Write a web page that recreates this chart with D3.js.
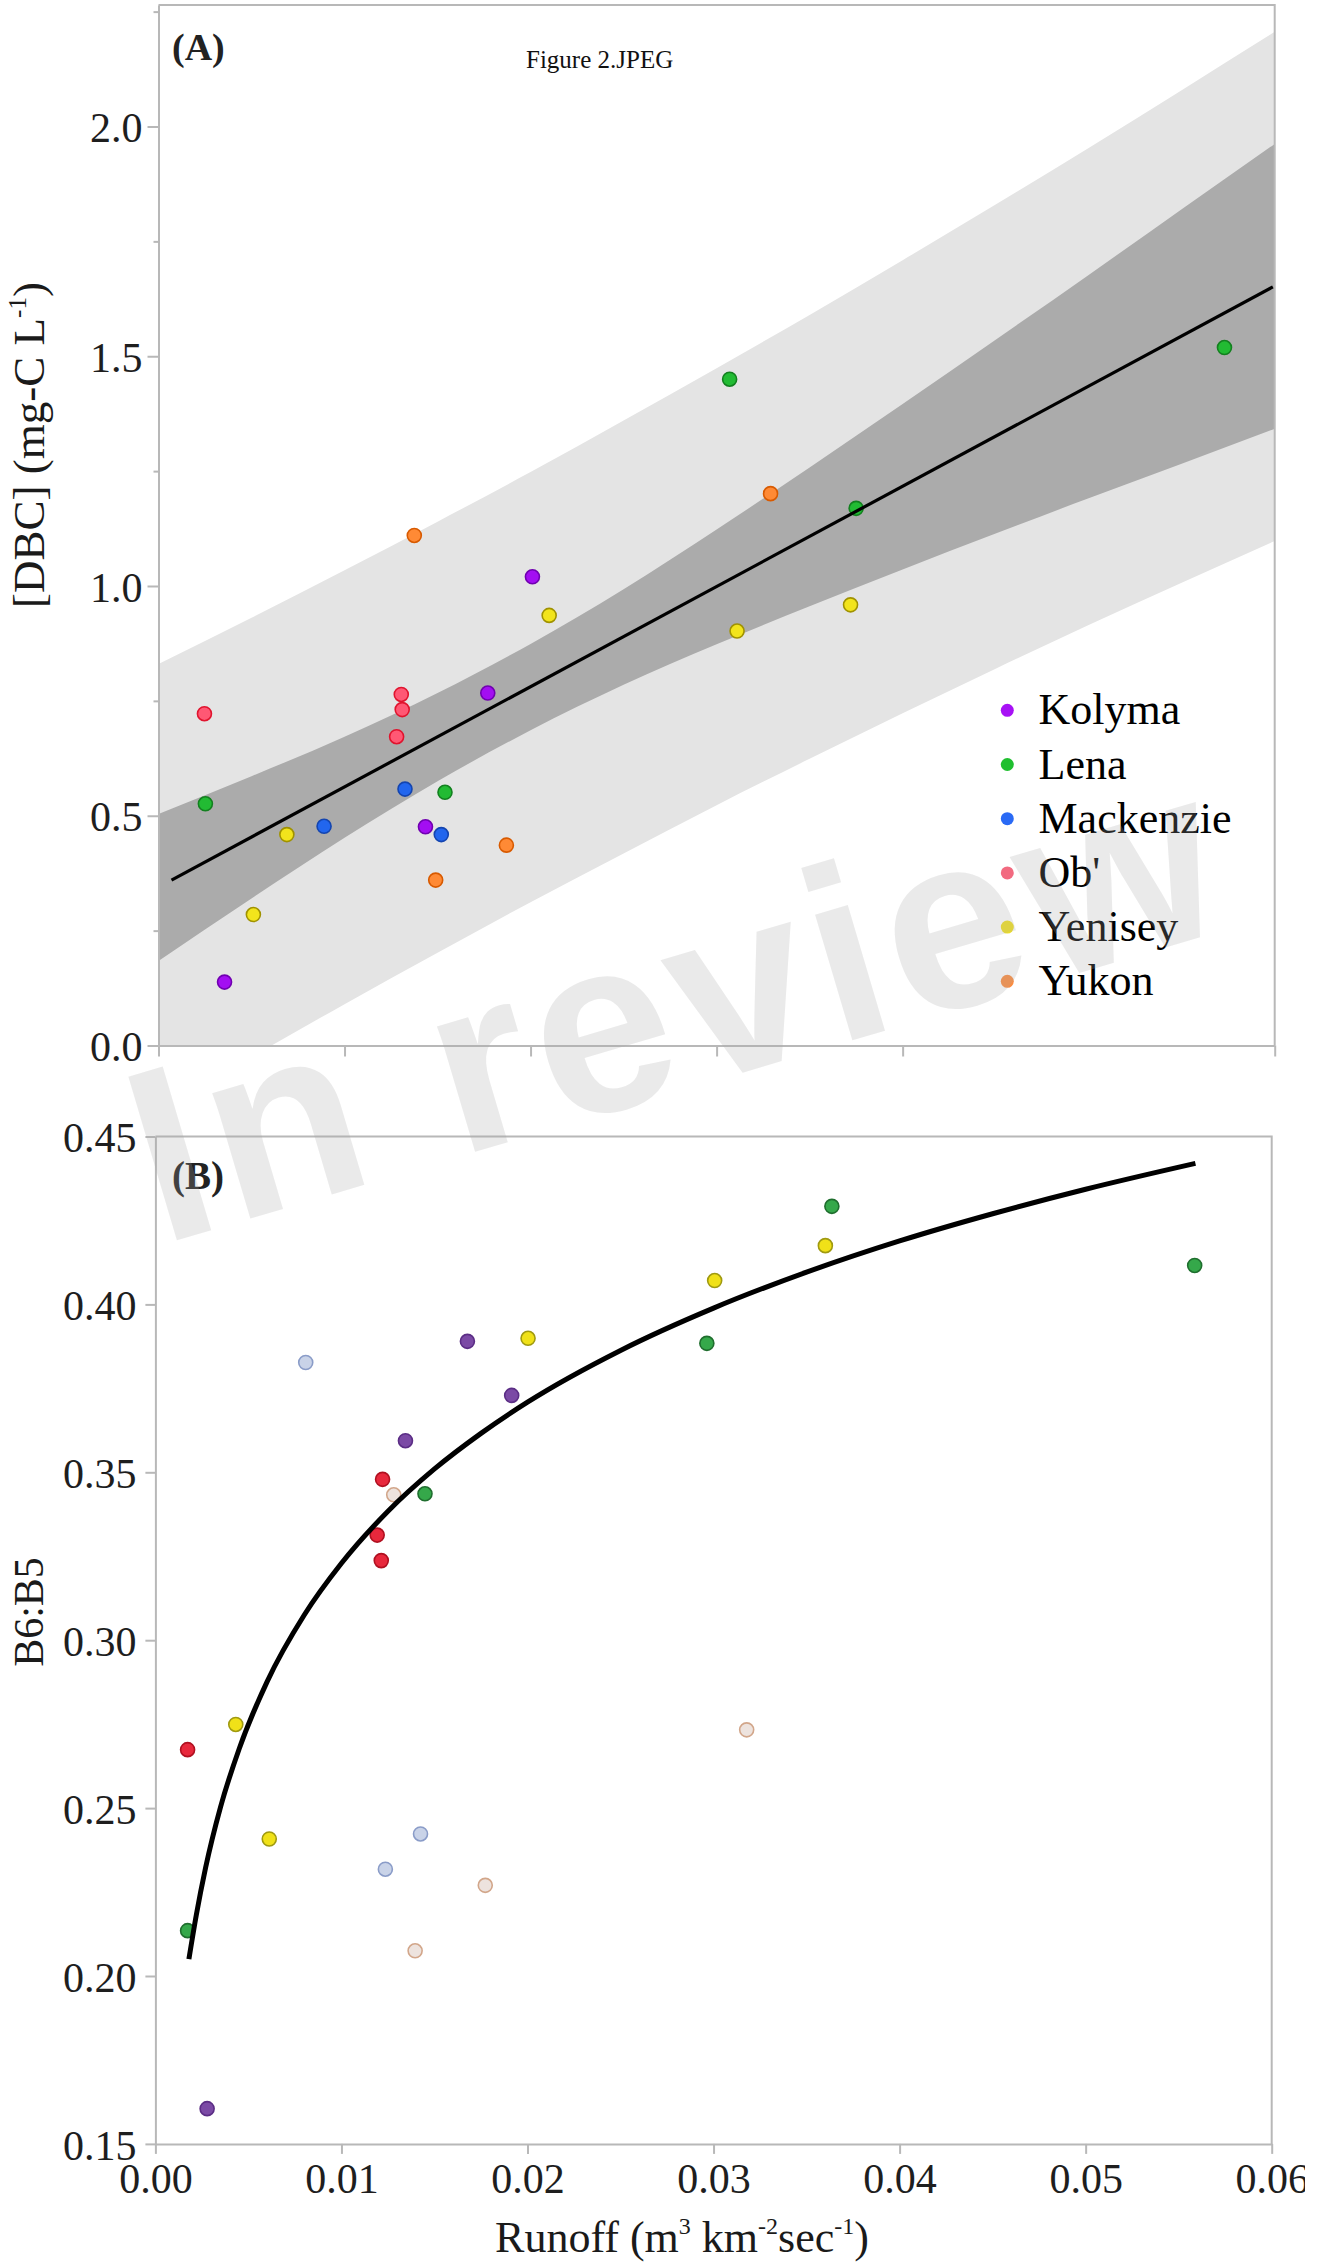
<!DOCTYPE html>
<html>
<head>
<meta charset="utf-8">
<script src="https://cdn.jsdelivr.net/npm/d3@7"></script>
<style>
  body { margin: 0; background: #fff; }
  svg { display: block; }
</style>
</head>
<body>
<div id="container"></div>
<script>
let w = 1321;
let h = 2267;

// rivers + colours (A = bright, B = muted)
let rivers = ["Kolyma", "Lena", "Mackenzie", "Ob'", "Yenisey", "Yukon"];
let fillA = ["#a30ef2", "#22bb33", "#2266ee", "#ff5874", "#f2e41c", "#ff8a35"];
let strokeA = ["#7000b0", "#13801f", "#1445b0", "#e0142e", "#a09200", "#d85a00"];
let legendColor = ["#a711f5", "#1fbf2f", "#2a6af5", "#f26a80", "#f0e020", "#fb8c40"];
let fillB = ["#7b4aa5", "#35a84a", "#c9d3e8", "#e8283c", "#f0e118", "#ede3de"];
let strokeB = ["#5b2d85", "#1f6e2e", "#8a9cc8", "#b01020", "#a09a10", "#d2a68a"];

// panel A points: river index, runoff, [DBC]
let aRiver  = [0, 0, 0, 0, 1, 1, 1, 1, 1, 2, 2, 2, 3, 3, 3, 3, 4, 4, 4, 4, 4, 5, 5, 5, 5];
let aRunoff = [0.0201, 0.0177, 0.01435, 0.00355, 0.00252, 0.0154, 0.0375, 0.0307, 0.0573,
               0.01325, 0.0089, 0.0152, 0.00247, 0.01305, 0.0131, 0.0128,
               0.0210, 0.0069, 0.0051, 0.0311, 0.0372, 0.01375, 0.0187, 0.0149, 0.0329];
let aDBC    = [1.020, 0.767, 0.476, 0.138, 0.526, 0.551, 1.169, 1.450, 1.519,
               0.558, 0.477, 0.459, 0.722, 0.764, 0.731, 0.672,
               0.936, 0.459, 0.285, 0.902, 0.959, 1.110, 0.436, 0.360, 1.201];

// panel A fit line and bands
let fitRunoff = [0.0007, 0.0599];
let fitDBC = [0.360, 1.651];
let bandRunoff = [0, 0.005, 0.01, 0.015, 0.02, 0.025, 0.03, 0.035, 0.04, 0.045, 0.05, 0.055, 0.06];
let confUpper = [0.504, 0.586, 0.672, 0.767, 0.874, 0.993, 1.123, 1.258, 1.396, 1.536, 1.677, 1.820, 1.962];
let confLower = [0.184, 0.320, 0.452, 0.575, 0.686, 0.785, 0.873, 0.956, 1.036, 1.114, 1.191, 1.266, 1.342];
let predUpper = [0.830, 0.931, 1.034, 1.140, 1.248, 1.360, 1.474, 1.590, 1.709, 1.830, 1.953, 2.079, 2.206];
let predLower = [-0.142, -0.025, 0.090, 0.202, 0.312, 0.418, 0.523, 0.624, 0.723, 0.820, 0.915, 1.007, 1.098];

// panel B points: river index, runoff, B6:B5
let bRiver  = [0, 0, 0, 0, 1, 1, 1, 1, 1, 2, 2, 2, 3, 3, 3, 3, 4, 4, 4, 4, 4, 5, 5, 5, 5];
let bRunoff = [0.01677, 0.01915, 0.01344, 0.00278, 0.03636, 0.02964, 0.05586, 0.01449, 0.00173,
               0.00808, 0.01425, 0.01236, 0.01221, 0.01192, 0.01214, 0.00173,
               0.02003, 0.03601, 0.03006, 0.00432, 0.00612, 0.01281, 0.01773, 0.01396, 0.03178];
let bRatio  = [0.3890, 0.3729, 0.3594, 0.1605, 0.4292, 0.3884, 0.4116, 0.3436, 0.2135,
               0.3827, 0.2423, 0.2318, 0.3479, 0.3313, 0.3237, 0.2674,
               0.3899, 0.4175, 0.4071, 0.2749, 0.2408, 0.3433, 0.2270, 0.2075, 0.2733];

// panel B fitted curve
let curveRunoff = [0.0018, 0.0022, 0.0027, 0.0035, 0.0045, 0.006, 0.008, 0.010, 0.0125, 0.015,
                   0.0175, 0.020, 0.025, 0.030, 0.035, 0.040, 0.045, 0.050, 0.0559];
let curveRatio  = [0.205, 0.2182, 0.2323, 0.2503, 0.2676, 0.2876, 0.3075, 0.3229, 0.3384, 0.3510,
                   0.3616, 0.3709, 0.3863, 0.3989, 0.4096, 0.4189, 0.4270, 0.4343, 0.4420];

// ticks
let yTicksA = [0, 0.5, 1.0, 1.5, 2.0];
let yMinorA = [0.25, 0.75, 1.25, 1.75, 2.25];
let xTicksA = [0, 0.01, 0.02, 0.03, 0.04, 0.06];
let yTicksB = [0.15, 0.20, 0.25, 0.30, 0.35, 0.40, 0.45];
let xTicksB = [0, 0.01, 0.02, 0.03, 0.04, 0.05, 0.06];

let serif = "'Liberation Serif', 'Times New Roman', serif";
let axisGray = "#b8b8b8";

let svg = d3.select("#container").append("svg")
  .attr("width", w)
  .attr("height", h);

let xA = d3.scaleLinear().domain([0, 0.06]).range([158.5, 1274.7]);
let yA = d3.scaleLinear().domain([0, 2.2644]).range([1045.5, 5]);
let xB = d3.scaleLinear().domain([0, 0.06]).range([155.4, 1271.7]);
let yB = d3.scaleLinear().domain([0.15, 0.45]).range([2143.9, 1136.5]);

function styleAxis(g, size) {
  g.select(".domain").attr("stroke", axisGray).attr("stroke-width", 2);
  g.selectAll(".tick line").attr("stroke", axisGray).attr("stroke-width", 2);
  g.selectAll(".tick text").attr("font-family", serif).attr("font-size", size).attr("fill", "#1e1e1e");
}

// ---------- panel A ----------
svg.append("defs").append("clipPath").attr("id", "clipA").append("rect")
  .attr("x", xA(0)).attr("y", yA(2.2644))
  .attr("width", xA(0.06) - xA(0)).attr("height", yA(0) - yA(2.2644));

let bandData = bandRunoff.map((r, i) => ({ r: r, cu: confUpper[i], cl: confLower[i], pu: predUpper[i], pl: predLower[i] }));
let plotA = svg.append("g").attr("clip-path", "url(#clipA)");

plotA.append("path").datum(bandData)
  .attr("d", d3.area().x(d => xA(d.r)).y0(d => yA(d.pl)).y1(d => yA(d.pu)).curve(d3.curveMonotoneX))
  .attr("fill", "#e4e4e4");
plotA.append("path").datum(bandData)
  .attr("d", d3.area().x(d => xA(d.r)).y0(d => yA(d.cl)).y1(d => yA(d.cu)).curve(d3.curveMonotoneX))
  .attr("fill", "#ababab");

// frame top/right
svg.append("path")
  .attr("d", d3.line()([[xA(0), yA(2.2644)], [xA(0.06), yA(2.2644)], [xA(0.06), yA(0)]]))
  .attr("fill", "none").attr("stroke", axisGray).attr("stroke-width", 2);

let yAxA = svg.append("g").attr("transform", "translate(" + xA(0) + ",0)")
  .call(d3.axisLeft(yA).tickValues(yTicksA).tickSize(11).tickPadding(5).tickSizeOuter(0).tickFormat(d3.format(".1f")));
styleAxis(yAxA, 42);
yAxA.selectAll(".tick text").attr("dy", "0.36em");
let yMinA = svg.append("g").attr("transform", "translate(" + xA(0) + ",0)")
  .call(d3.axisLeft(yA).tickValues(yMinorA).tickSize(5).tickSizeOuter(0).tickFormat(""));
styleAxis(yMinA, 42);
yMinA.select(".domain").remove();

let xAxA = svg.append("g").attr("transform", "translate(0," + yA(0) + ")")
  .call(d3.axisBottom(xA).tickValues(xTicksA).tickSize(11).tickSizeOuter(0).tickFormat(""));
styleAxis(xAxA, 42);

let pointsA = aRunoff.map((r, i) => ({ r: r, v: aDBC[i], k: aRiver[i] }));
svg.append("g").selectAll("circle").data(pointsA).enter().append("circle")
  .attr("cx", d => xA(d.r))
  .attr("cy", d => yA(d.v))
  .attr("r", 7)
  .attr("fill", d => fillA[d.k])
  .attr("stroke", d => strokeA[d.k])
  .attr("stroke-width", 1.6);

svg.append("path")
  .attr("d", d3.line().x(d => xA(d[0])).y(d => yA(d[1]))(fitRunoff.map((r, i) => [r, fitDBC[i]])))
  .attr("fill", "none").attr("stroke", "#000").attr("stroke-width", 3.2);

// legend
let legend = svg.append("g");
rivers.forEach(function (name, i) {
  let ly = 710.3 + i * 54.2;
  legend.append("circle").attr("cx", 1007.3).attr("cy", ly).attr("r", 6.5).attr("fill", legendColor[i]);
  legend.append("text").attr("x", 1038.5).attr("y", ly + 14)
    .attr("font-family", serif).attr("font-size", 44).attr("fill", "#000").text(name);
});

svg.append("text").attr("x", 172).attr("y", 60)
  .attr("font-family", serif).attr("font-weight", "bold").attr("font-size", 38).attr("fill", "#222").text("(A)");
svg.append("text").attr("x", 526).attr("y", 67.7)
  .attr("font-family", serif).attr("font-size", 25).attr("fill", "#111").text("Figure 2.JPEG");

let yTitleA = svg.append("text")
  .attr("transform", "translate(44,445) rotate(-90)")
  .attr("text-anchor", "middle")
  .attr("font-family", serif).attr("font-size", 45).attr("fill", "#1a1a1a");
yTitleA.append("tspan").text("[DBC] (mg-C L");
yTitleA.append("tspan").attr("font-size", 25).attr("dy", -18).text("-1");
yTitleA.append("tspan").attr("dy", 18).text(")");

// ---------- panel B ----------
svg.append("path")
  .attr("d", d3.line()([[xB(0), yB(0.45)], [xB(0.06), yB(0.45)], [xB(0.06), yB(0.15)]]))
  .attr("fill", "none").attr("stroke", axisGray).attr("stroke-width", 2);

let yAxB = svg.append("g").attr("transform", "translate(" + xB(0) + ",0)")
  .call(d3.axisLeft(yB).tickValues(yTicksB).tickSize(10).tickPadding(9).tickSizeOuter(0).tickFormat(d3.format(".2f")));
styleAxis(yAxB, 42);
yAxB.selectAll(".tick text").attr("dy", "0.36em");

let xAxB = svg.append("g").attr("transform", "translate(0," + yB(0.15) + ")")
  .call(d3.axisBottom(xB).tickValues(xTicksB).tickSize(10).tickPadding(9).tickSizeOuter(0).tickFormat(d3.format(".2f")));
styleAxis(xAxB, 42);

let pointsB = bRunoff.map((r, i) => ({ r: r, v: bRatio[i], k: bRiver[i] }));
svg.append("g").selectAll("circle").data(pointsB).enter().append("circle")
  .attr("cx", d => xB(d.r))
  .attr("cy", d => yB(d.v))
  .attr("r", 7)
  .attr("fill", d => fillB[d.k])
  .attr("stroke", d => strokeB[d.k])
  .attr("stroke-width", 1.6);

svg.append("path")
  .attr("d", d3.line().x(d => xB(d[0])).y(d => yB(d[1])).curve(d3.curveMonotoneX)(curveRunoff.map((r, i) => [r, curveRatio[i]])))
  .attr("fill", "none").attr("stroke", "#000").attr("stroke-width", 5);

svg.append("text").attr("x", 172).attr("y", 1189)
  .attr("font-family", serif).attr("font-weight", "bold").attr("font-size", 39).attr("fill", "#222").text("(B)");

svg.append("text")
  .attr("transform", "translate(43,1612) rotate(-90)")
  .attr("text-anchor", "middle")
  .attr("font-family", serif).attr("font-size", 42).attr("fill", "#1a1a1a")
  .text("B6:B5");

let xTitle = svg.append("text")
  .attr("x", 682).attr("y", 2252)
  .attr("text-anchor", "middle")
  .attr("font-family", serif).attr("font-size", 44).attr("fill", "#1a1a1a");
xTitle.append("tspan").text("Runoff (m");
xTitle.append("tspan").attr("font-size", 24).attr("dy", -18).text("3");
xTitle.append("tspan").attr("dy", 18).text(" km");
xTitle.append("tspan").attr("font-size", 24).attr("dy", -18).text("-2");
xTitle.append("tspan").attr("dy", 18).text("sec");
xTitle.append("tspan").attr("font-size", 24).attr("dy", -18).text("-1");
xTitle.append("tspan").attr("dy", 18).text(")");

// image is cropped on the right edge
svg.append("rect").attr("x", 1305).attr("y", 2150).attr("width", 16).attr("height", 60).attr("fill", "#fff");

// watermark
svg.append("text")
  .attr("transform", "translate(161,1245) rotate(-16.5)")
  .attr("font-family", "'Liberation Sans', Arial, sans-serif")
  .attr("font-weight", "bold")
  .attr("font-size", 248)
  .attr("letter-spacing", 7)
  .attr("fill", "#a8a8a8")
  .attr("fill-opacity", 0.24)
  .text("In review");
</script>
</body>
</html>
